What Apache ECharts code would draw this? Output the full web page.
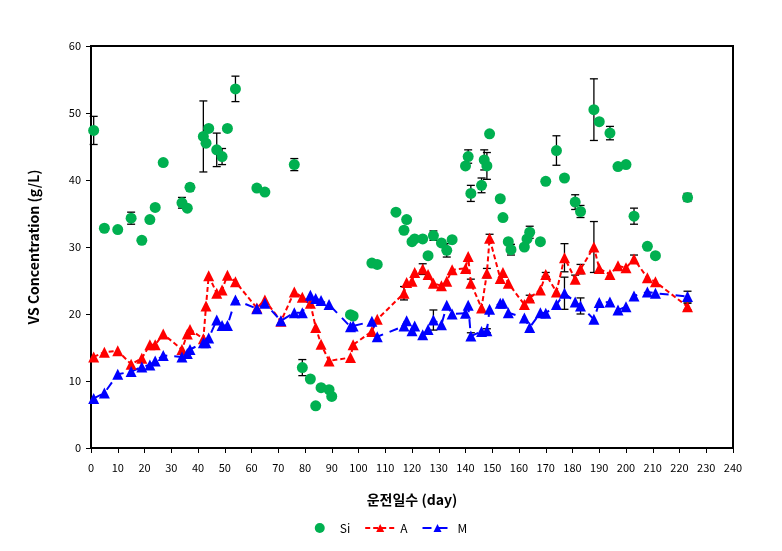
<!DOCTYPE html>
<html><head><meta charset="utf-8">
<script src="https://cdn.jsdelivr.net/npm/echarts@6/dist/echarts.min.js"></script>
<style>html,body{margin:0;padding:0;background:#fff}#c{width:782px;height:551px}</style>
</head><body><div id="c"></div>
<script>
const siDays = [1,5,10,15,19,22,24,27,34,36,37,42,43,44,47,49,51,54,62,65,76,79,82,84,86,89,90,97,98,105,107,114,117,118,120,121,124,126,128,131,133,135,140,141,142,146,147,148,149,153,154,156,157,162,163,164,168,170,174,177,181,183,188,190,194,197,200,203,208,211,223];
const siValues = [47.4,32.8,32.6,34.3,31.0,34.1,35.9,42.6,36.6,35.8,38.9,46.5,45.5,47.7,44.5,43.5,47.7,53.6,38.8,38.2,42.3,12.0,10.3,6.3,9.0,8.7,7.7,19.9,19.7,27.6,27.4,35.2,32.5,34.1,30.8,31.2,31.2,28.7,31.7,30.6,29.5,31.1,42.1,43.5,38.0,39.2,43.0,42.1,46.9,37.2,34.4,30.8,29.6,30.0,31.2,32.2,30.8,39.8,44.4,40.3,36.7,35.3,50.5,48.7,47.0,42.0,42.3,34.6,30.1,28.7,37.4];
const siErr = [2.1,0,0,0.9,0,0,0,0,0.8,0,0.5,5.3,0,0.4,2.5,1.2,0,1.9,0,0,0.9,1.2,0,0,0,0,0,0,0,0,0,0,0,0,0,0,0,0,0.7,0,1.0,0,0,1.0,1.2,1.1,1.5,2.0,0,0,0,0,0.8,0,0,0.9,0,0.3,2.2,0,1.1,0.9,4.6,0.4,1.0,0.3,0,1.2,0,0,0.6];

const aDays = [1,5,10,15,19,22,24,27,34,36,37,42,43,44,47,49,51,54,62,65,71,76,79,82,84,86,89,97,98,105,107,117,118,120,121,124,126,128,131,133,135,140,141,142,146,148,149,153,154,156,162,164,168,170,174,177,181,183,188,190,194,197,200,203,208,211,223];
const aValues = [13.6,14.3,14.5,12.5,13.4,15.4,15.4,17.0,14.7,17.0,17.7,16.3,21.2,25.7,23.1,23.6,25.8,24.8,20.9,22.1,18.9,23.3,22.5,21.6,18.0,15.5,13.0,13.5,15.4,17.4,19.2,23.1,24.7,24.9,26.2,26.7,25.9,24.6,24.2,24.9,26.6,26.8,28.6,24.6,20.9,26.1,31.3,25.3,26.2,24.6,21.4,22.4,23.6,25.9,23.3,28.4,25.2,26.7,30.0,26.8,25.9,27.2,26.9,28.2,25.4,24.8,21.1];
const aErr = [0,0,0,0,0,0,0,0,0,0,0,0,0,0,0,0,0,0,0,0,0,0,0,0,0,0,0,0,0,0,0,1.0,0,0,0,0.8,0,0,0,0,0,0,0,0.6,0,0.7,0.6,0,0,0,0,0.4,0,0.3,0,2.1,0.6,0.7,3.8,0,0,0,0,0.6,0,0,0.5];

const mDays = aDays;
const mValues = [7.4,8.2,11.0,11.4,12.1,12.4,13.0,13.8,13.6,14.1,14.7,15.7,15.7,16.4,19.1,18.3,18.3,22.1,20.8,21.6,19.0,20.2,20.2,22.8,22.3,22.0,21.4,18.1,18.2,18.9,16.6,18.2,19.0,17.5,18.2,16.9,17.7,19.1,18.4,21.3,20.0,20.1,21.3,16.7,17.4,17.5,20.7,21.6,21.6,20.2,19.4,18.0,20.2,20.1,21.4,23.1,21.8,21.2,19.2,21.7,21.8,20.6,21.1,22.7,23.3,23.1,22.6];
const mErr = [0,0,0,0,0,0,0,0,0,0,0,0,0,0,0,0,0,0,0,0,0,0,0,0,0,0,0,0,0,0,0,0,0,0,0,0,0,1.5,0,0,0,0,0,0.5,0,0.3,0,0,0,0,0,0,0,0,0,2.4,0,1.2,0,0,0,0,0,0,0,0,0.8];

const xTicks = {min:0, max:240, interval:10};
const yTicks = {min:0, max:60, interval:10};

function pairs(d, v){ return d.map((x,i)=>[x, v[i]]); }
function errPairs(d, v, e){ const out=[]; d.forEach((x,i)=>{ if(e[i]>0) out.push([x, v[i]-e[i], v[i]+e[i]]); }); return out; }

function renderErr(params, api){
  const x = api.value(0), lo = api.value(1), hi = api.value(2);
  const p1 = api.coord([x, hi]), p2 = api.coord([x, lo]);
  const w = 4;
  const st = {stroke:'#000', lineWidth:1.3};
  return {type:'group', children:[
    {type:'line', shape:{x1:p1[0],y1:p1[1],x2:p2[0],y2:p2[1]}, style:st},
    {type:'line', shape:{x1:p1[0]-w,y1:p1[1],x2:p1[0]+w,y2:p1[1]}, style:st},
    {type:'line', shape:{x1:p2[0]-w,y1:p2[1],x2:p2[0]+w,y2:p2[1]}, style:st}
  ]};
}

const errData = errPairs(siDays, siValues, siErr).concat(errPairs(aDays, aValues, aErr)).concat(errPairs(mDays, mValues, mErr));

const font = '"Noto Sans CJK KR","Noto Sans",sans-serif';
const chart = echarts.init(document.getElementById('c'), null, {renderer:'canvas'});
chart.setOption({
  animation:false,
  textStyle:{fontFamily:font},
  grid:{left:91, right:49, top:46, bottom:103, show:true, borderColor:'#000', borderWidth:2},
  xAxis:{type:'value', min:xTicks.min, max:xTicks.max, interval:xTicks.interval,
    name:'운전일수 (day)', nameLocation:'middle', nameGap:45,
    nameTextStyle:{fontSize:14, fontWeight:'bold', color:'#000', fontFamily:font},
    axisLine:{lineStyle:{color:'#000', width:2}},
    axisTick:{show:true, inside:false, length:5, lineStyle:{color:'#000'}},
    axisLabel:{fontSize:11, color:'#000', margin:14, fontFamily:font},
    splitLine:{show:false}},
  yAxis:{type:'value', min:yTicks.min, max:yTicks.max, interval:yTicks.interval,
    name:'VS Concentration (g/L)', nameLocation:'middle', nameGap:50, nameRotate:90,
    nameTextStyle:{fontSize:14, fontWeight:'bold', color:'#000', fontFamily:font},
    axisLine:{show:true, lineStyle:{color:'#000', width:2}},
    axisTick:{show:true, inside:false, length:5, lineStyle:{color:'#000'}},
    axisLabel:{fontSize:11, color:'#000', margin:10, fontFamily:font},
    splitLine:{show:false}},
  legend:{data:['Si','A','M'], bottom:12, left:'center', itemGap:14, itemWidth:30, itemHeight:10,
    textStyle:{fontSize:12, color:'#000', fontFamily:font}},
  series:[
    {type:'custom', name:'err', renderItem:renderErr, data:errData, z:1, silent:true,
      encode:{x:0, y:[1,2]}},
    {type:'scatter', name:'Si', data:pairs(siDays, siValues), symbol:'circle', symbolSize:11,
      itemStyle:{color:'#00B050', opacity:1}, z:3},
    {type:'line', name:'A', data:pairs(aDays, aValues), symbol:'triangle', symbolSize:11,
      showAllSymbol:true,
      lineStyle:{color:'#FF0000', width:2, type:[5,3]}, itemStyle:{color:'#FF0000'}, z:4},
    {type:'line', name:'M', data:pairs(mDays, mValues), symbol:'triangle', symbolSize:11,
      showAllSymbol:true,
      lineStyle:{color:'#0000FF', width:2, type:[9,7]}, itemStyle:{color:'#0000FF'}, z:4}
  ]
});
</script></body></html>
